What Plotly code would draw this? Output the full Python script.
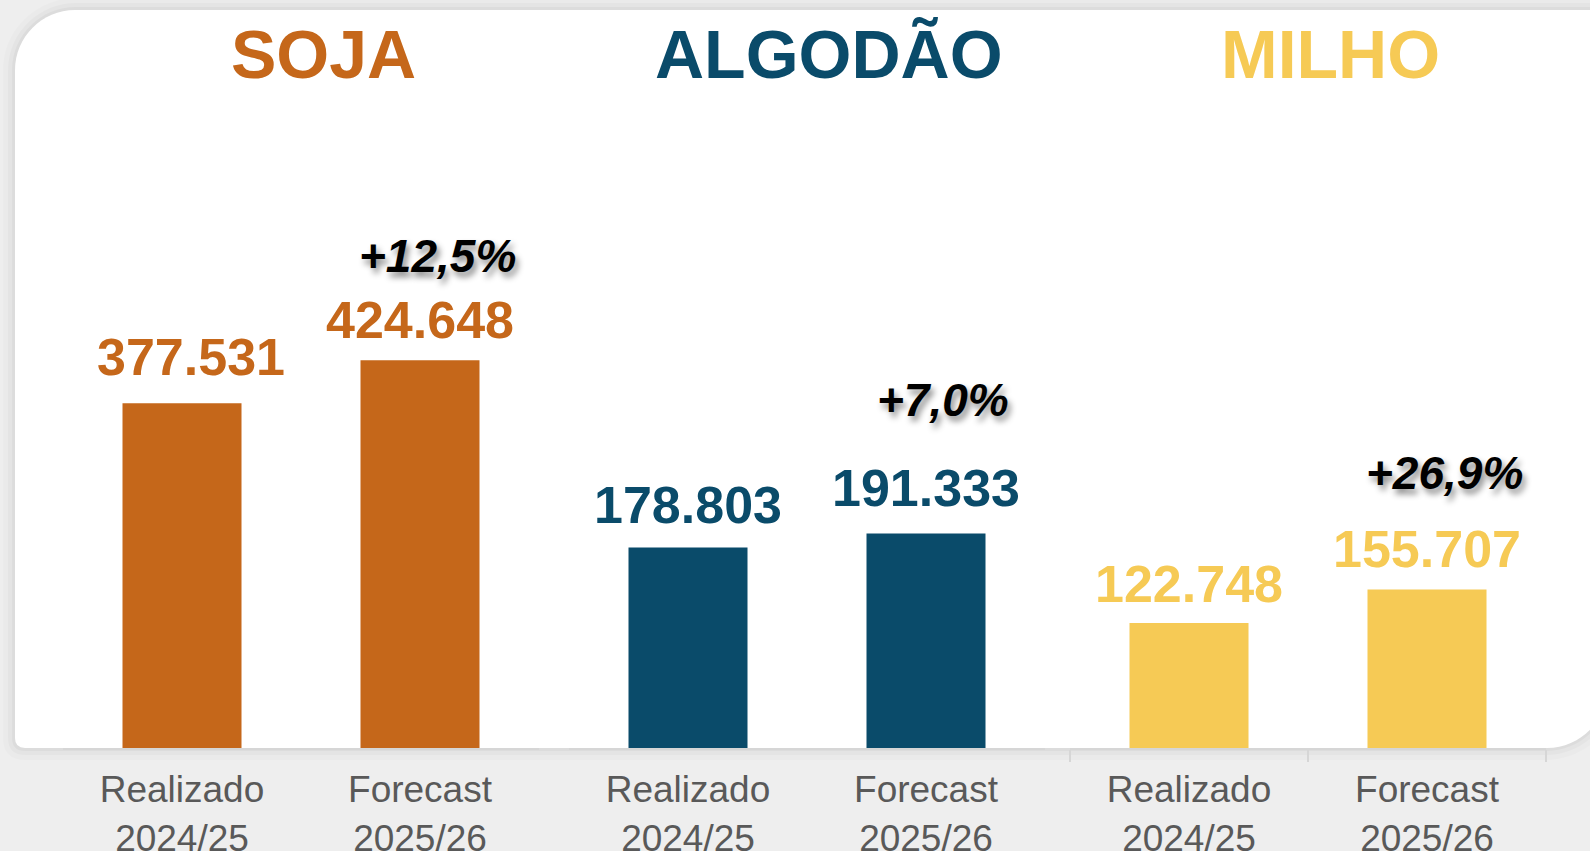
import plotly.graph_objects as go

# ---------------- data ----------------
categories = ["Realizado<br>2024/25", "Forecast<br>2025/26"]
crops = ["SOJA", "ALGODÃO", "MILHO"]
soja = [377531, 424648]
algodao = [178803, 191333]
milho = [122748, 155707]
series = [soja, algodao, milho]

colors = ["#C5671A", "#0A4B6A", "#F6CA55"]

W, H = 1590, 851


def fx(x):
    return x / W


def fy(y):
    return 1 - y / H


def fmt_value(v):
    return f"{v:,}".replace(",", ".")


def fmt_pct(a, b):
    return ("+" + f"{(b / a - 1) * 100:.1f}").replace(".", ",") + "%"


# layout geometry (pixels)
x_domains = [(63, 539), (569, 1045), (1070, 1546)]
y_top, y_base = 100, 748
px_per_unit = [0.0009134, 0.0011212, 0.0010185]
value_yshift = [[15, 9], [12, 14], [8, 9]]
value_xshift = [[9, 0], [0, 0], [0, 0]]
pct_yshift = [76, 105, 88]
FONT = "Arial, Liberation Sans, sans-serif"

fig = go.Figure()

for i, (vals, col) in enumerate(zip(series, colors)):
    sfx = "" if i == 0 else str(i + 1)
    fig.add_trace(go.Bar(
        x=categories, y=vals, marker=dict(color=col, line=dict(width=0)),
        xaxis="x" + sfx, yaxis="y" + sfx, showlegend=False, hoverinfo="skip",
    ))
    ymax = (y_base - y_top) / px_per_unit[i]
    fig.update_layout(**{
        "xaxis" + sfx: dict(
            domain=[fx(x_domains[i][0]), fx(x_domains[i][1])],
            anchor="y" + sfx, showline=True, linecolor="#d6d6d6", linewidth=2,
            ticks="outside", ticklen=12, tickwidth=1.5,
            tickcolor="#d6d6d6" if i == 2 else "rgba(0,0,0,0)",
            tickson="boundaries", showgrid=False, zeroline=False,
            tickfont=dict(family=FONT, size=37, color="#595959"),
            ticklabelstandoff=8, fixedrange=True, automargin=False,
        ),
        "yaxis" + sfx: dict(
            domain=[fy(y_base), fy(y_top)], anchor="x" + sfx,
            range=[0, ymax], visible=False, fixedrange=True, automargin=False,
        ),
    })
    # value labels
    for j, (c, v) in enumerate(zip(categories, vals)):
        fig.add_annotation(
            x=c, y=v, xref="x" + sfx, yref="y" + sfx, text=fmt_value(v),
            showarrow=False, yanchor="bottom", yshift=value_yshift[i][j],
            xshift=value_xshift[i][j],
            font=dict(family=FONT, size=52, color=col, weight="bold"),
        )
    # percent change label
    fig.add_annotation(
        x=categories[1], y=vals[1], xref="x" + sfx, yref="y" + sfx,
        text=fmt_pct(vals[0], vals[1]), showarrow=False, yanchor="bottom",
        yshift=pct_yshift[i], xshift=17,
        font=dict(family=FONT, size=46, color="#000000", weight="bold",
                  style="italic", shadow="3px 5px 6px rgba(0,0,0,0.45)"),
    )
    # crop title
    fig.add_annotation(
        x=0.5, y=fy(94), xref="x" + sfx + " domain", yref="paper",
        text=crops[i], showarrow=False, yanchor="bottom", xshift=22,
        font=dict(family=FONT, size=68, color=col, weight="bold"),
    )


def path(points_cmds):
    out = []
    for cmd, pts in points_cmds:
        coords = " ".join(f"{fx(x):.5f},{fy(y):.5f}" for x, y in pts)
        out.append(f"{cmd} {coords}")
    return " ".join(out) + " Z"


def panel(d=0):
    return path([
        ("M", [(75, 10 - d)]),
        ("L", [(1607 + d, 10 - d)]),
        ("L", [(1607 + d, 688)]),
        ("C", [(1607 + d, 721 + d), (1580, 748 + d), (1547, 748 + d)]),
        ("L", [(25, 748 + d)]),
        ("Q", [(15 - d, 748 + d), (15 - d, 738)]),
        ("L", [(15 - d, 70)]),
        ("C", [(15 - d, 37 - d), (42, 10 - d), (75, 10 - d)]),
    ])


shapes = []
for d, a in [(12, 0.015), (7, 0.022), (3, 0.032)]:
    shapes.append(dict(type="path", path=panel(d), xref="paper", yref="paper",
                       fillcolor=f"rgba(0,0,0,{a})", line=dict(width=0), layer="below"))
shapes.append(dict(type="path", path=panel(0), xref="paper", yref="paper",
                   fillcolor="#ffffff", line=dict(width=0), layer="below"))

fig.update_layout(
    width=W, height=H, margin=dict(l=0, r=0, t=0, b=0, autoexpand=False),
    paper_bgcolor="#eeeeee", plot_bgcolor="rgba(0,0,0,0)",
    bargap=0.5, shapes=shapes, showlegend=False,
    font=dict(family=FONT),
)

fig.write_html(
    "out.html",
    config={"displayModeBar": False},
    post_script="document.body.style.margin='0';document.body.style.overflow='hidden';"
                "document.body.style.background='#eeeeee';",
)
